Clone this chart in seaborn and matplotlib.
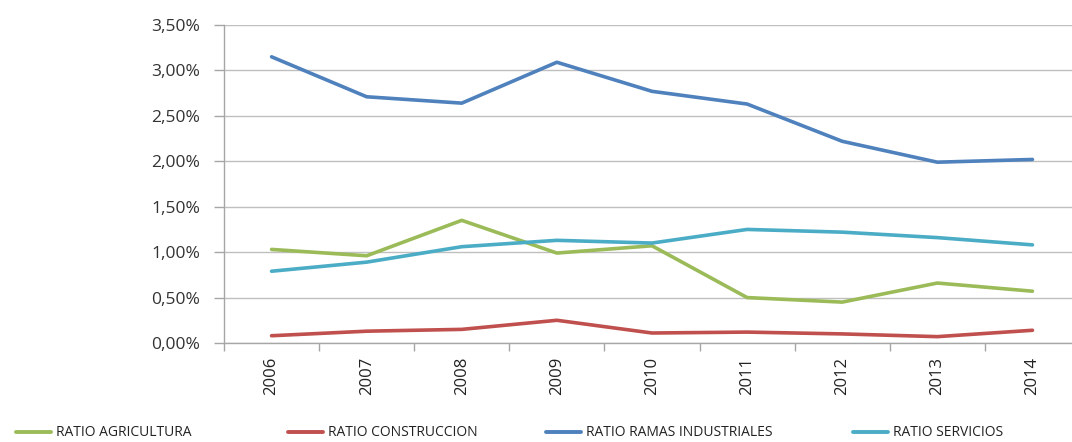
import numpy as np
import pandas as pd
import matplotlib
matplotlib.use("Agg")
import matplotlib.pyplot as plt
from matplotlib.ticker import FuncFormatter, FixedLocator
import seaborn as sns

years = ["2006", "2007", "2008", "2009", "2010", "2011", "2012", "2013", "2014"]
agricultura = [1.03, 0.96, 1.35, 0.99, 1.07, 0.50, 0.45, 0.66, 0.57]
construccion = [0.08, 0.13, 0.15, 0.25, 0.11, 0.12, 0.10, 0.07, 0.14]
industriales = [3.15, 2.71, 2.64, 3.09, 2.77, 2.63, 2.22, 1.99, 2.02]
servicios = [0.79, 0.89, 1.06, 1.13, 1.10, 1.25, 1.22, 1.16, 1.08]

series_names = ["RATIO AGRICULTURA", "RATIO CONSTRUCCION",
                "RATIO RAMAS INDUSTRIALES", "RATIO SERVICIOS"]
series_values = [agricultura, construccion, industriales, servicios]
colors = ["#9BBB59", "#C0504D", "#4F81BD", "#4BACC6"]

rows = []
for name, vals in zip(series_names, series_values):
    for i, (y, v) in enumerate(zip(years, vals)):
        rows.append({"pos": i, "year": y, "serie": name, "valor": v})
df = pd.DataFrame(rows)

sns.set_theme(style="white")
plt.rcParams["font.family"] = ["Open Sans", "DejaVu Sans"]

fig = plt.figure(figsize=(10.72, 4.42), dpi=100)
ax = fig.add_axes([224 / 1072, 1 - 343 / 442, (1080 - 224) / 1072, 318 / 442])

sns.lineplot(data=df, x="pos", y="valor", hue="serie", hue_order=series_names,
             palette=colors, linewidth=2.6, ax=ax, legend=False)

ax.set_xlim(-0.5, len(years) - 0.5)
ax.set_ylim(0, 3.5)
ax.set_yticks(np.arange(0, 3.51, 0.5))
ax.yaxis.set_major_formatter(FuncFormatter(lambda v, p: f"{v:.2f}%".replace(".", ",")))
ax.set_xticks(range(len(years)))
ax.set_xticklabels(years, rotation=90)
ax.xaxis.set_minor_locator(FixedLocator(np.arange(-0.5, len(years), 1.0)))
ax.tick_params(axis="x", which="major", length=0, pad=10, labelsize=12, labelcolor="#222222")
ax.tick_params(axis="x", which="minor", length=6, width=1, color="#A6A6A6", direction="out", bottom=True)
ax.tick_params(axis="y", length=7, width=1, color="#A6A6A6", direction="out", left=True,
               labelsize=12.5, labelcolor="#333333", pad=10)
ax.set_xlabel("")
ax.set_ylabel("")
ax.grid(axis="y", color="#BFBFBF", linewidth=1)
ax.set_axisbelow(True)
for s in ["top", "right"]:
    ax.spines[s].set_visible(False)
for s in ["left", "bottom"]:
    ax.spines[s].set_color("#A6A6A6")
    ax.spines[s].set_linewidth(1)

# one legend entry per slot along the bottom edge
legend_x = [16, 288, 546, 853]
for name, color, x0 in zip(series_names, colors, legend_x):
    h = plt.Line2D([0], [0], color=color, linewidth=2.8)
    fig.legend([h], [name], loc="center left", frameon=False,
               bbox_to_anchor=(x0 / 1072, 1 - 433 / 442),
               fontsize=10, handlelength=2.5, handletextpad=0.4,
               borderaxespad=0, borderpad=0, labelcolor="#222222")

fig.savefig("out.png", dpi=100)
